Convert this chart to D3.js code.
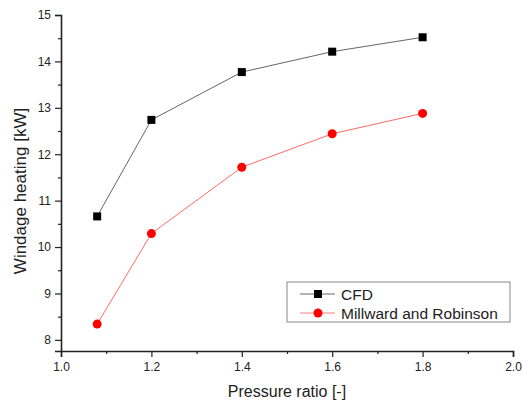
<!DOCTYPE html>
<html>
<head>
<meta charset="utf-8">
<script src="https://cdn.jsdelivr.net/npm/d3@7"></script>
<style>
  body { margin: 0; background: #fff; }
  text { font-family: "Liberation Sans", Arial, sans-serif; fill: #222; }
</style>
</head>
<body>
<div id="chart"></div>
<script>
// data
const pressureRatio = [1.08, 1.2, 1.4, 1.6, 1.8];
const cfdHeating = [10.66, 12.74, 13.77, 14.21, 14.52];
const millwardHeating = [8.34, 10.29, 11.72, 12.44, 12.88];
const xTicks = [1.0, 1.2, 1.4, 1.6, 1.8, 2.0];
const yTicks = [8, 9, 10, 11, 12, 13, 14, 15];
const seriesNames = ['CFD', 'Millward and Robinson'];

const width = 523, height = 407;
const margin = { top: 15, right: 10, bottom: 56, left: 61 };

const svg = d3.select('#chart').append('svg')
  .attr('width', width)
  .attr('height', height);

const x = d3.scaleLinear().domain([1.0, 2.0]).range([margin.left, 513]);
const y = d3.scaleLinear().domain([7.76, 15]).range([351, margin.top]);

// axes
svg.append('g')
  .attr('transform', `translate(0,${y(7.76)})`)
  .call(d3.axisBottom(x).tickValues(xTicks).tickFormat(d3.format('.1f')).tickSize(6).tickPadding(5));
svg.append('g')
  .attr('transform', `translate(0,${y(7.76)})`)
  .call(d3.axisBottom(x).tickValues(d3.range(1.1, 2.0, 0.2)).tickFormat('').tickSize(3))
  .call(g => g.select('.domain').remove());

svg.append('g')
  .attr('transform', `translate(${x(1.0)},0)`)
  .call(d3.axisLeft(y).tickValues(yTicks).tickFormat(d3.format('d')).tickSize(6).tickPadding(4));
svg.append('g')
  .attr('transform', `translate(${x(1.0)},0)`)
  .call(d3.axisLeft(y).tickValues(d3.range(8.5, 15, 1)).tickFormat('').tickSize(3))
  .call(g => g.select('.domain').remove());

svg.selectAll('.domain').attr('stroke', '#222').attr('stroke-width', 1.6);
svg.selectAll('.tick line').attr('stroke', '#222').attr('stroke-width', 1.2);
svg.selectAll('.tick text').style('font-size', '12px').attr('fill', '#222');

// axis titles
svg.append('text')
  .attr('x', 287)
  .attr('y', 397)
  .attr('text-anchor', 'middle')
  .style('font-size', '16px')
  .text('Pressure ratio [-]');
svg.append('text')
  .attr('transform', 'translate(26,191) rotate(-90)')
  .attr('text-anchor', 'middle')
  .style('font-size', '17px')
  .text('Windage heating [kW]');

// lines
const line = vals => d3.line().x((d, i) => x(pressureRatio[i])).y(d => y(d))(vals);

svg.append('path')
  .attr('d', line(cfdHeating))
  .attr('fill', 'none')
  .attr('stroke', '#666')
  .attr('stroke-width', 1);
svg.append('path')
  .attr('d', line(millwardHeating))
  .attr('fill', 'none')
  .attr('stroke', '#ff6a6a')
  .attr('stroke-width', 1);

svg.selectAll('rect.cfd')
  .data(cfdHeating)
  .join('rect')
  .attr('class', 'cfd')
  .attr('x', (d, i) => x(pressureRatio[i]) - 4)
  .attr('y', d => y(d) - 4)
  .attr('width', 8)
  .attr('height', 8)
  .attr('fill', '#000');

svg.selectAll('circle.mr')
  .data(millwardHeating)
  .join('circle')
  .attr('class', 'mr')
  .attr('cx', (d, i) => x(pressureRatio[i]))
  .attr('cy', d => y(d))
  .attr('r', 4.5)
  .attr('fill', '#ff0000');

// legend
const legend = svg.append('g').attr('transform', 'translate(287,282)');
legend.append('rect')
  .attr('width', 223)
  .attr('height', 40)
  .attr('fill', '#fff')
  .attr('stroke', '#888')
  .attr('stroke-width', 1);

const rows = legend.selectAll('g.row')
  .data(seriesNames)
  .join('g')
  .attr('class', 'row')
  .attr('transform', (d, i) => `translate(0,${12 + i * 19})`);
rows.append('line')
  .attr('x1', 13).attr('x2', 48)
  .attr('stroke', (d, i) => i === 0 ? '#666' : '#ff8080')
  .attr('stroke-width', 1);
rows.each(function(d, i) {
  const g = d3.select(this);
  if (i === 0) {
    g.append('rect').attr('x', 27).attr('y', -4).attr('width', 8).attr('height', 8).attr('fill', '#000');
  } else {
    g.append('circle').attr('cx', 31).attr('r', 4.5).attr('fill', '#ff0000');
  }
});
rows.append('text')
  .attr('x', 54)
  .attr('dy', '0.36em')
  .style('font-size', '15.5px')
  .text(d => d);
</script>
</body>
</html>
